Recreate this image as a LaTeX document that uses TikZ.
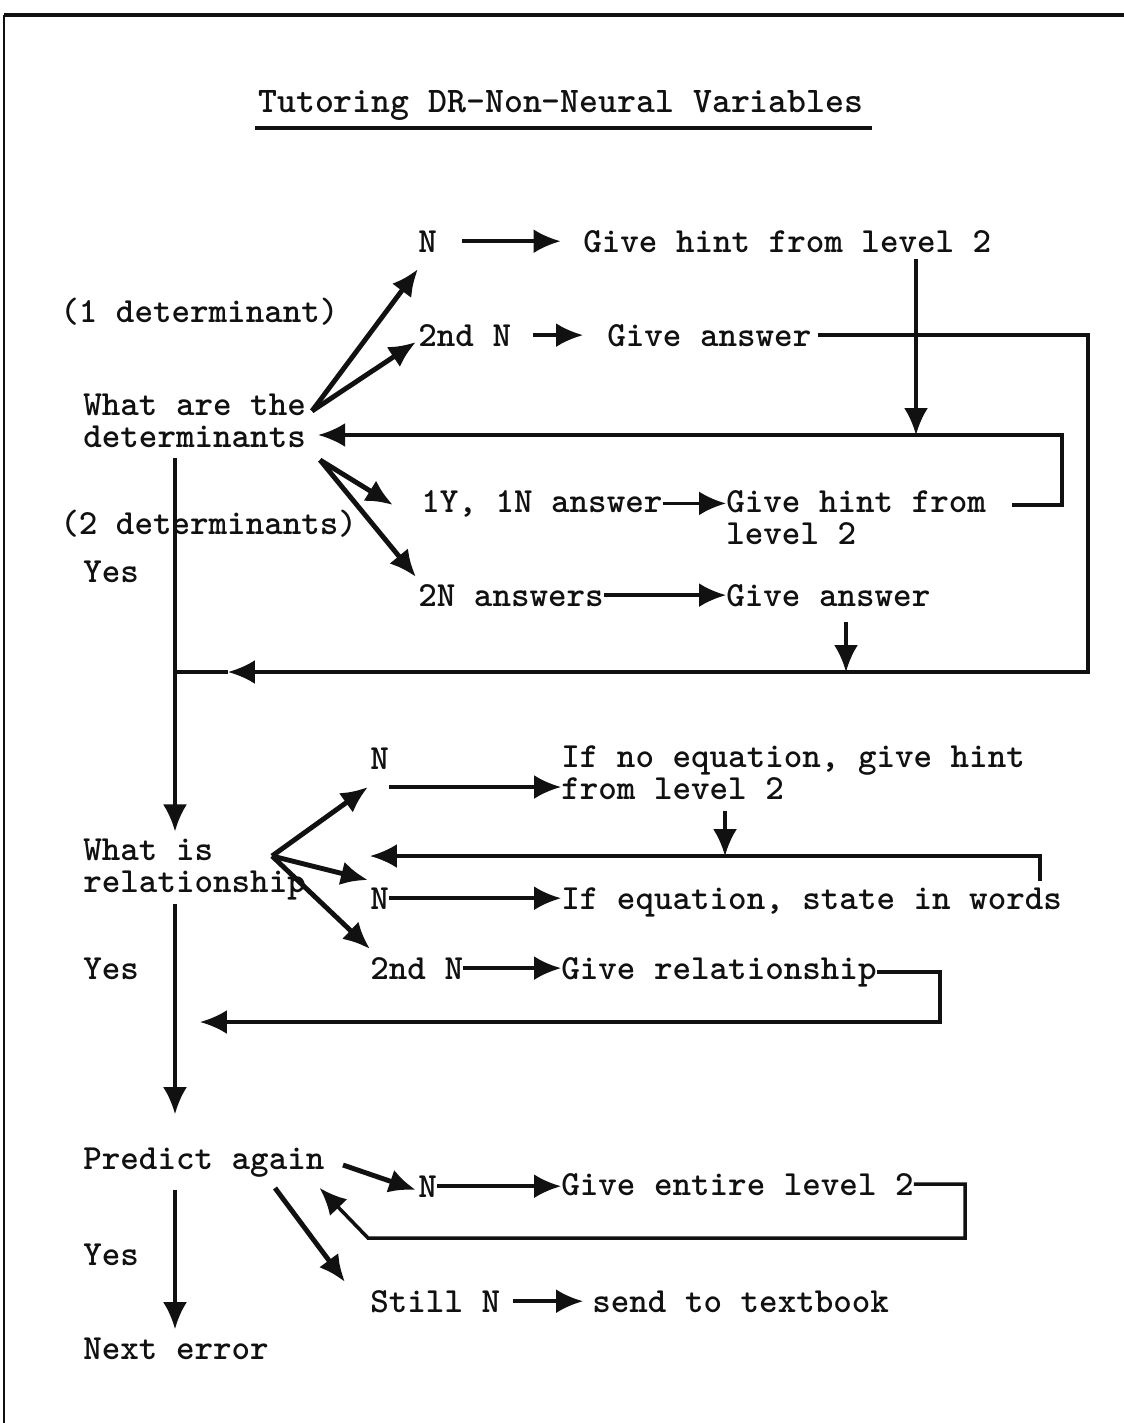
\documentclass[tikz,border=0pt]{standalone}
\usetikzlibrary{calc,arrows.meta}
\definecolor{Ink}{HTML}{111111}

\begin{document}
\begin{tikzpicture}[x=0.02cm,y=-0.02cm,>={Latex[length=5.4mm,width=4.8mm]},
  every node/.style={text=Ink,inner sep=0pt,anchor=base west,
    font={\ttfamily\bfseries\fontsize{20.1}{18}\selectfont}},
  txt/.style={align=left},
  ln/.style={draw=Ink,line width=2pt},
  arr/.style={ln,->},
  fan/.style={draw=Ink,line width=2.8pt,->}]
  \useasboundingbox (0,0) rectangle (1124,1423);
  \fill[white] (0,0) rectangle (1124,1423);
  \draw[Ink,line width=1.2pt] (4,1423) -- (4,15);
  \draw[Ink,line width=1.8pt] (4,15) -- (1124,15);

  \node[font={\ttfamily\bfseries\fontsize{20.5}{18}\selectfont}] (title) at (258,112)
    {Tutoring DR-Non-Neural Variables};
  \draw[ln] ($(title.base west)+(-3,16)$) -- ($(title.base east)+(8,16)$);

  % determinants
  \node (n1) at (418,252) {N};
  \node (hint1) at (583,252) {Give hint from level 2};
  \node (det1) at (60,322) {(1 determinant)};
  \node (n2) at (418,346) {2nd N};
  \node (ans1) at (607,346) {Give answer};
  \node[txt] (qdet) at (83,447) {What are the\\determinants};
  \node (yn) at (421,512) {1Y, 1N answer};
  \node[txt] (hint2) at (726,544) {Give hint from\\level 2};
  \node (det2) at (60,534) {(2 determinants)};
  \node (yes1) at (83,582) {Yes};
  \node (nn) at (418,606) {2N answers};
  \node (ans2) at (726,606) {Give answer};

  % relationship
  \node (r1) at (370,769) {N};
  \node[txt] (noeq) at (561,799) {If no equation, give hint\\from level 2};
  \node[txt] (qrel) at (83,892) {What is\\relationship};
  \node (r2) at (370,909) {N};
  \node (eq) at (561,909) {If equation, state in words};
  \node (yes2) at (83,979) {Yes};
  \node (r3) at (370,979) {2nd N};
  \node (rel) at (561,979) {Give relationship};

  % predict
  \node (pred) at (83,1169) {Predict again};
  \node (p1) at (418,1197) {N};
  \node (entire) at (561,1195) {Give entire level 2};
  \node (yes3) at (83,1265) {Yes};
  \node (still) at (370,1312) {Still N};
  \node (book) at (592,1312) {send to textbook};
  \node (next) at (83,1359) {Next error};

  \coordinate (spine) at (175,0);
  \coordinate (qd1) at (312,411);
  \coordinate (qd2) at (320,460);
  \coordinate (qr) at (272,856);
  \coordinate (pr1) at (343,1165);
  \coordinate (pr2) at (275,1188);

  % fans
  \draw[fan] (qd1) -- ($(n1.base west)+(0,17)$);
  \draw[fan] (qd1) -- ($(n2.base west)+(-2,-4)$);
  \draw[fan] (qd2) -- ($(yn.base west)+(-28,-7)$);
  \draw[fan] (qd2) -- ($(nn.base west)+(-2,-29)$);
  \draw[fan] (qr) -- ($(r1.base west)+(-2,18)$);
  \draw[fan] (qr) -- ($(r2.base west)+(-2,-29)$);
  \draw[fan] (qr) -- ($(r3.base west)+(0,-30)$);
  \draw[fan] (pr1) -- ($(p1.base west)+(-2,-7)$);
  \draw[fan] (pr2) -- ($(still.base west)+(-25,-30)$);

  % answers to actions
  \draw[arr,shorten <=5mm,shorten >=4.5mm] (n1.east) -- (n1.east -| hint1.west);
  \draw[arr,shorten <=4.4mm,shorten >=4.8mm] (n2.east) -- (n2.east -| ans1.west);
  \draw[arr] (yn.east) -- (yn.east -| hint2.west);
  \draw[arr] (nn.east) -- (nn.east -| ans2.west);
  \coordinate (r1out) at ($(r1.base east)+(0,18)$);
  \draw[arr] (r1out) -- (r1out -| noeq.west);
  \draw[arr] (r2.east) -- (r2.east -| eq.west);
  \draw[arr] (r3.east) -- (r3.east -| rel.west);
  \draw[arr] (p1.east) -- (p1.east -| entire.west);
  \draw[arr,shorten <=2.6mm,shorten >=1.8mm] (still.east) -- (still.east -| book.west);

  % main line
  \draw[arr,shorten <=2mm,shorten >=1.4mm] (qdet.south -| spine) -- (qrel.north -| spine);
  \draw[arr,shorten <=0.8mm,shorten >=6.6mm] (qrel.south -| spine) -- (pred.north -| spine);
  \draw[arr,shorten <=2.5mm,shorten >=1.6mm] (pred.south -| spine) -- (next.north -| spine);

  % loops back
  \coordinate (drop1) at ($(hint1.south west)+(333,6)$);
  \coordinate (back1) at (1062,435);
  \coordinate (out2) at ($(hint2.north east)+(26,15)$);
  \draw[arr] (drop1) -- (drop1 |- back1);
  \draw[arr,shorten >=2.4mm] (out2) -- (out2 -| back1) -- (back1) -- (back1 -| qdet.east);

  \coordinate (back2) at (1088,672);
  \coordinate (tip2) at (228,672);
  \coordinate (drop2) at ($(ans2.base west)+(120,16)$);
  \draw[arr,shorten <=1.2mm] (ans1.east) -- (ans1.east -| back2) -- (back2) -- (tip2);
  \draw[ln] (tip2) -- (tip2 -| spine);
  \draw[arr] (drop2) -- (drop2 |- back2);

  \coordinate (back3) at (1040,856);
  \coordinate (up3) at ($(eq.north west)+(479,-6)$);
  \coordinate (drop3) at ($(noeq.south west)+(164,11)$);
  \draw[arr] (up3) -- (back3) -- (back3 -| r2.west);
  \draw[arr] (drop3) -- (drop3 |- back3);

  \coordinate (back4) at (940,1022);
  \coordinate (tip4) at (200,1022);
  \draw[arr] (rel.east) -- (rel.east -| back4) -- (back4) -- (tip4);

  \coordinate (back5) at (965,1238);
  \coordinate (knee5) at (368,1238);
  \draw[arr] (entire.east) -- (entire.east -| back5) -- (back5) -- (knee5)
    -- ($(pred.base east)+(-5,19)$);
\end{tikzpicture}
\end{document}
